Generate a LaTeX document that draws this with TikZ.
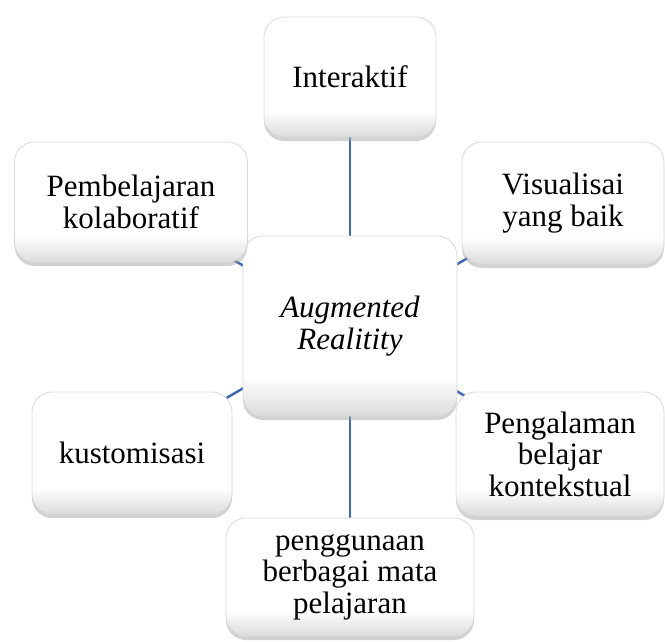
\documentclass[tikz,border=0pt]{standalone}
\usepackage{fontspec}
\setmainfont{Liberation Serif}
\usetikzlibrary{shadows,backgrounds}
\definecolor{linkblue}{RGB}{65,105,175}
\pgfdeclareverticalshading{cardshade}{100bp}{color(0bp)=(gray!28); color(25bp)=(gray!28); color(36bp)=(white); color(100bp)=(white)}
\begin{document}
\begin{tikzpicture}[x=1pt,y=-1pt,
  card/.style={rounded corners=20pt, draw=gray!30, line width=0.8pt,
    shading=cardshade,
    align=center, inner sep=0pt,
    font=\fontsize{31}{31.5}\selectfont,
    drop shadow={shadow xshift=0pt, shadow yshift=-4pt, opacity=0.5, fill=gray!70}},
  link/.style={draw=linkblue, line width=2.5pt}]
\useasboundingbox (0,0) rectangle (665,641);

\node[card, minimum width=214pt, minimum height=180pt] (ar) at (350,326) {\itshape Augmented\\\itshape Realitity};
\node[card, minimum width=172pt, minimum height=120pt] (int) at (350,77) {Interaktif};
\node[card, minimum width=233pt, minimum height=120pt] (kol) at (131,202) {Pembelajaran\\kolaboratif};
\node[card, minimum width=202pt, minimum height=122pt] (vis) at (563,203) {Visualisai\\yang baik};
\node[card, minimum width=200pt, minimum height=122pt] (kus) at (132,453) {kustomisasi};
\node[card, minimum width=208pt, minimum height=124pt] (pen) at (560,454) {Pengalaman\\belajar\\kontekstual};
\node[card, minimum width=248pt, minimum height=118pt] (mat) at (350,577) {penggunaan\\berbagai mata\\pelajaran};

\begin{scope}[on background layer]
  \draw[link] (ar.center) -- (int.center);
  \draw[link] (ar.center) -- (kol.center);
  \draw[link] (ar.center) -- (vis.center);
  \draw[link] (ar.center) -- (kus.center);
  \draw[link] (ar.center) -- (pen.center);
  \draw[link] (ar.center) -- (mat.center);
\end{scope}
\end{tikzpicture}
\end{document}
